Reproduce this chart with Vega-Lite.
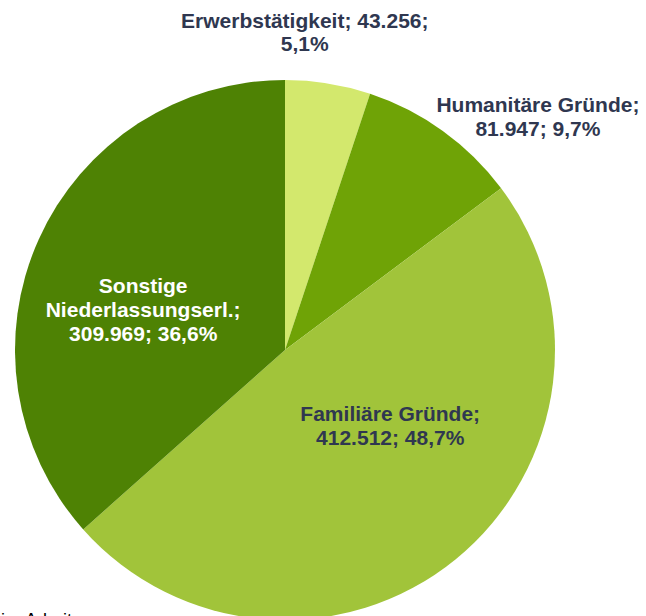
{
  "$schema": "https://vega.github.io/schema/vega-lite/v6.json",
  "width": 570,
  "height": 532,
  "autosize": {"type": "none"},
  "padding": {"left": 0, "top": 84, "right": 76, "bottom": 0},
  "background": "white",
  "view": {"stroke": null},
  "data": {
    "values": [
      {"cat": "Erwerbstätigkeit", "value": 43256, "ord": 1, "label": "Erwerbstätigkeit; 43.256;\n5,1%"},
      {"cat": "Humanitäre Gründe", "value": 81947, "ord": 2, "label": "Humanitäre Gründe;\n81.947; 9,7%"},
      {"cat": "Familiäre Gründe", "value": 412512, "ord": 3, "label": "Familiäre Gründe;\n412.512; 48,7%"},
      {"cat": "Sonstige Niederlassungserl.", "value": 309969, "ord": 4, "label": "Sonstige\nNiederlassungserl.;\n309.969; 36,6%"}
    ]
  },
  "layer": [
    {
      "mark": {"type": "arc", "outerRadius": 270},
      "encoding": {
        "theta": {"field": "value", "type": "quantitative", "stack": true},
        "order": {"field": "ord", "type": "quantitative"},
        "color": {"field": "cat", "type": "nominal", "legend": null,
          "scale": {"domain": ["Erwerbstätigkeit", "Humanitäre Gründe", "Familiäre Gründe", "Sonstige Niederlassungserl."],
                    "range": ["#D3E86D", "#6FA306", "#A1C43A", "#4E8204"]}}
      }
    },
    {
      "mark": {"type": "text", "radius": 318, "dx": -31, "dy": -14, "font": "Liberation Sans", "fontWeight": "bold", "fontSize": 21, "lineHeight": 23, "lineBreak": "\n", "align": "center", "baseline": "middle", "color": "#2F3750"},
      "encoding": {
        "theta": {"field": "value", "type": "quantitative", "stack": true},
        "order": {"field": "ord", "type": "quantitative"},
        "detail": {"field": "cat", "type": "nominal"},
        "text": {"condition": {"test": "datum.cat === 'Erwerbstätigkeit'", "field": "label"}, "value": ""}}
    },
    {
      "mark": {"type": "text", "radius": 330, "dx": 60, "dy": 24, "font": "Liberation Sans", "fontWeight": "bold", "fontSize": 21, "lineHeight": 24, "lineBreak": "\n", "align": "center", "baseline": "middle", "color": "#2F3750"},
      "encoding": {
        "theta": {"field": "value", "type": "quantitative", "stack": true},
        "order": {"field": "ord", "type": "quantitative"},
        "detail": {"field": "cat", "type": "nominal"},
        "text": {"condition": {"test": "datum.cat === 'Humanitäre Gründe'", "field": "label"}, "value": ""}}
    },
    {
      "mark": {"type": "text", "radius": 130, "dx": 23, "dy": -36, "font": "Liberation Sans", "fontWeight": "bold", "fontSize": 21, "lineHeight": 24, "lineBreak": "\n", "align": "center", "baseline": "middle", "color": "#2F3750"},
      "encoding": {
        "theta": {"field": "value", "type": "quantitative", "stack": true},
        "order": {"field": "ord", "type": "quantitative"},
        "detail": {"field": "cat", "type": "nominal"},
        "text": {"condition": {"test": "datum.cat === 'Familiäre Gründe'", "field": "label"}, "value": ""}}
    },
    {
      "mark": {"type": "text", "radius": 150, "dx": -5, "dy": -2, "font": "Liberation Sans", "fontWeight": "bold", "fontSize": 21, "lineHeight": 24, "lineBreak": "\n", "align": "center", "baseline": "middle", "color": "#FFFFFF"},
      "encoding": {
        "theta": {"field": "value", "type": "quantitative", "stack": true},
        "order": {"field": "ord", "type": "quantitative"},
        "detail": {"field": "cat", "type": "nominal"},
        "text": {"condition": {"test": "datum.cat === 'Sonstige Niederlassungserl.'", "field": "label"}, "value": ""}}
    },
    {
      "data": {"values": [{"note": "i,\u00a0\u00a0\u00a0Arbeit"}]},
      "mark": {"type": "text", "align": "left", "baseline": "top", "font": "Liberation Sans", "fontSize": 18, "color": "#000000"},
      "encoding": {
        "x": {"value": 1},
        "y": {"value": 528},
        "text": {"field": "note", "type": "nominal"}
      }
    }
  ]
}
